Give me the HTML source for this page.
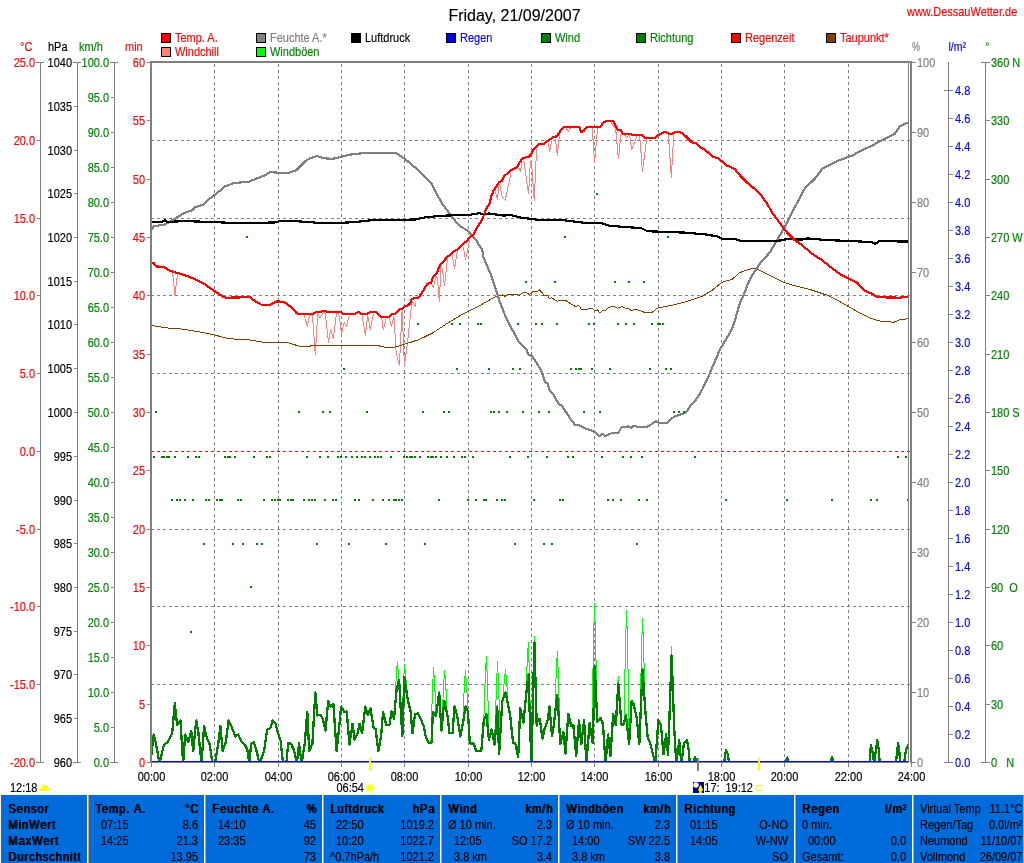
<!DOCTYPE html>
<html><head><meta charset="utf-8"><title>Friday, 21/09/2007</title>
<style>
html,body{margin:0;padding:0;background:#fff;}
body{width:1024px;height:863px;position:relative;overflow:hidden;font-family:"Liberation Sans",Arial,sans-serif;font-size:11px;}
svg{position:absolute;left:0;top:0;}
svg text{font-family:"Liberation Sans",Arial,sans-serif;white-space:pre;stroke:currentColor;stroke-width:0.15px;paint-order:stroke;}
#tbl{position:absolute;left:0;top:795px;width:1024px;height:68px;background:#006CDC;}
#tt{position:absolute;left:0;top:794px;width:1024px;height:1px;background:#FFF6E0;}
#tw{position:absolute;left:0;top:0;width:1024px;height:863px;}
#tw span{position:absolute;white-space:pre;line-height:16px;height:16px;color:#000;-webkit-text-stroke:0.15px #000;transform-origin:0 11.8px;transform:scaleY(1.125);}
#tw span.b{letter-spacing:1px;text-shadow:1px 0 0 #000;}
#tw i{position:absolute;top:795px;width:1px;height:68px;background:#FFF2D6;}
#tw i.d{background:#D4A640;}
</style></head><body>
<svg width="1024" height="863" viewBox="0 0 1024 863">
<rect x="0" y="0" width="1024" height="863" fill="#FFFFFF"/>
<g shape-rendering="crispEdges">
<line x1="214.5" y1="64" x2="214.5" y2="762" stroke="#808080" stroke-width="1" stroke-dasharray="3 3"/>
<line x1="278.5" y1="64" x2="278.5" y2="762" stroke="#808080" stroke-width="1" stroke-dasharray="3 3"/>
<line x1="341.5" y1="64" x2="341.5" y2="762" stroke="#808080" stroke-width="1" stroke-dasharray="3 3"/>
<line x1="404.5" y1="64" x2="404.5" y2="762" stroke="#808080" stroke-width="1" stroke-dasharray="3 3"/>
<line x1="468.5" y1="64" x2="468.5" y2="762" stroke="#808080" stroke-width="1" stroke-dasharray="3 3"/>
<line x1="531.5" y1="64" x2="531.5" y2="762" stroke="#808080" stroke-width="1" stroke-dasharray="3 3"/>
<line x1="594.5" y1="64" x2="594.5" y2="762" stroke="#808080" stroke-width="1" stroke-dasharray="3 3"/>
<line x1="658.5" y1="64" x2="658.5" y2="762" stroke="#808080" stroke-width="1" stroke-dasharray="3 3"/>
<line x1="721.5" y1="64" x2="721.5" y2="762" stroke="#808080" stroke-width="1" stroke-dasharray="3 3"/>
<line x1="784.5" y1="64" x2="784.5" y2="762" stroke="#808080" stroke-width="1" stroke-dasharray="3 3"/>
<line x1="848.5" y1="64" x2="848.5" y2="762" stroke="#808080" stroke-width="1" stroke-dasharray="3 3"/>
<line x1="152" y1="140.5" x2="910" y2="140.5" stroke="#808080" stroke-width="1" stroke-dasharray="3 3" stroke-dashoffset="1"/>
<line x1="152" y1="218.5" x2="910" y2="218.5" stroke="#808080" stroke-width="1" stroke-dasharray="3 3" stroke-dashoffset="1"/>
<line x1="152" y1="295.5" x2="910" y2="295.5" stroke="#808080" stroke-width="1" stroke-dasharray="3 3" stroke-dashoffset="1"/>
<line x1="152" y1="373.5" x2="910" y2="373.5" stroke="#808080" stroke-width="1" stroke-dasharray="3 3" stroke-dashoffset="1"/>
<line x1="152" y1="451.5" x2="910" y2="451.5" stroke="#FF0000" stroke-width="1" stroke-dasharray="3 3" stroke-dashoffset="1"/>
<line x1="152" y1="529.5" x2="910" y2="529.5" stroke="#808080" stroke-width="1" stroke-dasharray="3 3" stroke-dashoffset="1"/>
<line x1="152" y1="606.5" x2="910" y2="606.5" stroke="#808080" stroke-width="1" stroke-dasharray="3 3" stroke-dashoffset="1"/>
<line x1="152" y1="684.5" x2="910" y2="684.5" stroke="#808080" stroke-width="1" stroke-dasharray="3 3" stroke-dashoffset="1"/>
</g>
<g shape-rendering="crispEdges">
<polyline points="394.7,710.5 396.1,679.0 397.3,662.0 398.5,673.1 399.9,693.8" fill="none" stroke="#00FF00" stroke-width="1" stroke-linejoin="round" />
<polyline points="401.9,729.4 403.3,687.2 404.5,664.5 405.7,675.2 407.1,695.2" fill="none" stroke="#00FF00" stroke-width="1" stroke-linejoin="round" />
<polyline points="430.9,742.3 432.3,694.0 433.5,668.0 434.7,684.5 436.1,715.1" fill="none" stroke="#00FF00" stroke-width="1" stroke-linejoin="round" />
<polyline points="442.0,724.0 443.4,688.9 444.6,670.0 445.8,685.2 447.2,713.5" fill="none" stroke="#00FF00" stroke-width="1" stroke-linejoin="round" />
<polyline points="462.8,723.2 464.2,688.6 465.4,670.0 466.6,685.0 468.0,712.7" fill="none" stroke="#00FF00" stroke-width="1" stroke-linejoin="round" />
<polyline points="483.8,720.4 485.2,678.5 486.4,656.0 487.6,685.0 489.0,738.8" fill="none" stroke="#00FF00" stroke-width="1" stroke-linejoin="round" />
<polyline points="494.9,740.8 496.3,689.6 497.5,662.0 498.7,688.4 500.1,737.5" fill="none" stroke="#00FF00" stroke-width="1" stroke-linejoin="round" />
<polyline points="502.9,698.7 504.3,680.1 505.5,670.0 506.7,682.1 508.1,704.6" fill="none" stroke="#00FF00" stroke-width="1" stroke-linejoin="round" />
<polyline points="525.8,697.9 527.2,661.6 528.4,642.0 529.6,679.7 531.0,749.8" fill="none" stroke="#00FF00" stroke-width="1" stroke-linejoin="round" />
<polyline points="531.8,744.1 533.2,673.8 534.4,636.0 535.6,666.7 537.0,723.7" fill="none" stroke="#00FF00" stroke-width="1" stroke-linejoin="round" />
<polyline points="554.8,715.8 556.2,673.7 557.4,651.0 558.6,681.6 560.0,738.5" fill="none" stroke="#00FF00" stroke-width="1" stroke-linejoin="round" />
<polyline points="591.9,737.2 593.3,650.6 594.5,604.0 595.7,643.7 597.1,717.5" fill="none" stroke="#00FF00" stroke-width="1" stroke-linejoin="round" />
<polyline points="615.7,724.2 617.1,692.9 618.3,676.0 619.5,690.1 620.9,716.4" fill="none" stroke="#00FF00" stroke-width="1" stroke-linejoin="round" />
<polyline points="624.0,722.0 625.4,649.2 626.6,610.0 627.8,656.3 629.2,742.4" fill="none" stroke="#00FF00" stroke-width="1" stroke-linejoin="round" />
<polyline points="639.9,730.2 641.3,657.9 642.5,619.0 643.7,650.1 645.1,707.7" fill="none" stroke="#00FF00" stroke-width="1" stroke-linejoin="round" />
<polyline points="668.9,730.7 670.3,676.3 671.5,647.0 672.7,674.0 674.1,724.1" fill="none" stroke="#00FF00" stroke-width="1" stroke-linejoin="round" />
</g>
<g shape-rendering="crispEdges">
<clipPath id="wc"><rect x="152" y="60" width="758" height="701"/></clipPath>
<polyline points="151.2,756.2 153.7,734.5 155.7,742.2 159.5,763.5 163.9,744.7 167.8,742.2 172.2,733.2 174.8,703.3 177.1,725.0 180.5,720.5 183.1,763.5 185.2,734.5 188.2,742.2 191.3,731.3 193.2,751.1 196.2,720.5 198.3,732.0 201.5,763.5 204.1,726.2 206.6,737.1 209.8,744.7 212.4,763.5 214.9,763.5 218.1,744.7 220.4,726.2 222.6,751.1 225.8,742.2 228.6,720.5 232.1,728.1 235.3,736.4 238.2,734.5 241.7,742.2 244.9,744.7 247.4,749.8 249.3,763.5 251.2,743.4 253.8,742.2 256.3,749.8 259.5,763.5 264.0,751.1 267.2,729.4 270.4,728.1 272.6,720.5 275.4,723.0 278.0,733.2 280.6,740.9 283.1,763.5 286.3,763.5 288.2,743.4 290.8,743.4 293.9,749.8 296.9,763.5 299.0,743.4 301.6,763.5 304.8,743.4 307.3,711.6 309.2,751.1 312.4,743.4 315.3,692.5 317.5,715.4 320.7,714.8 323.2,720.5 325.4,730.7 328.3,700.8 330.3,706.5 333.4,703.9 336.6,751.1 339.2,726.9 341.1,706.5 344.3,712.2 346.8,711.6 349.4,744.7 352.6,723.7 354.5,739.6 357.7,733.2 359.6,723.7 362.1,733.2 365.3,706.5 367.9,715.4 370.4,708.4 373.6,728.1 375.5,728.8 378.4,751.1 381.2,734.5 383.1,711.6 386.3,725.0 389.5,725.0 391.4,711.6 394.0,719.2 396.5,689.9 399.1,679.7 402.3,736.4 404.4,677.2 407.4,697.6 408.0,700.8 410.6,711.6 412.5,733.2 415.0,714.1 418.2,713.5 423.9,726.2 425.8,737.1 428.4,742.8 431.6,742.8 432.9,711.6 436.0,716.0 439.2,692.5 441.4,730.7 444.3,700.8 447.5,715.4 449.4,733.2 452.6,733.2 454.5,706.5 457.1,715.4 460.3,736.4 463.4,720.5 465.4,706.5 467.9,711.6 469.8,743.4 473.6,743.4 476.2,751.1 481.3,751.1 483.8,720.5 486.4,714.1 488.9,739.6 491.5,729.4 494.7,744.7 497.2,706.5 499.1,754.3 502.3,700.8 505.5,692.5 510.0,714.1 513.1,742.8 515.1,742.8 518.2,756.8 520.2,708.4 523.4,722.4 525.9,697.6 528.4,674.6 531.4,763.5 534.4,642.5 536.7,725.6 538.0,719.2 539.9,719.2 542.5,739.0 544.4,729.4 547.6,720.5 549.5,706.5 552.0,735.8 553.9,724.3 557.1,695.0 558.4,711.6 560.3,744.1 563.5,732.0 565.4,753.6 568.3,714.1 571.1,725.6 573.4,725.6 576.2,756.2 579.0,720.5 581.3,744.1 584.1,720.5 586.4,763.5 589.6,723.0 592.8,743.4 594.7,665.7 597.3,721.8 600.5,718.0 603.0,724.3 605.5,763.5 608.1,734.5 610.4,756.2 613.2,714.1 615.8,725.0 618.3,683.5 621.5,724.3 623.4,725.0 625.9,714.8 629.1,744.1 631.7,700.8 633.6,703.9 636.8,718.0 639.3,744.1 642.5,669.5 645.1,707.8 647.6,737.1 650.2,743.4 655.3,763.5 658.4,719.9 661.0,725.6 663.5,754.3 666.1,734.5 668.0,754.9 668.0,754.3 669.3,721.8 671.6,655.5 674.4,732.0 676.3,763.5 679.2,740.3 681.4,763.5 683.9,743.4 687.1,740.3 689.0,752.4 689.7,763.5 692.9,763.5 695.0,757.5 697.3,763.5 724.1,763.5 726.0,749.8 727.9,754.9 729.2,763.5 785.3,763.5 787.2,757.5 789.1,763.5 829.5,763.5 832.1,757.5 834.0,763.5 869.7,763.5 870.9,744.7 872.8,753.6 874.1,763.5 877.3,740.3 879.2,752.4 879.5,763.5 895.8,763.5 898.1,743.4 899.6,753.6 899.9,763.5 904.1,763.5 906.0,749.8 908.5,744.7" fill="none" stroke="#008000" stroke-width="2.3" stroke-linejoin="round" clip-path="url(#wc)"/>
<rect x="152" y="761" width="757" height="1" fill="#0000FF" />
<polyline points="172.5,272.2 175.0,294.7 177.5,273.9" fill="none" stroke="#FF8080" stroke-width="1" stroke-linejoin="round" />
<polyline points="304.2,314.9 307.4,326.6 309.5,315.5 312.4,314.9 315.3,354.8 317.7,313.8 320.0,317.9 323.5,312.0 325.3,313.8 328.5,342.5 330.6,329.6 333.3,338.4 336.4,313.8 338.8,313.2 341.5,333.7 344.1,322.5 346.4,326.6 349.3,315.5" fill="none" stroke="#FF8080" stroke-width="1" stroke-linejoin="round" />
<polyline points="362.2,315.5 365.4,335.4 367.7,315.5 370.4,329.6 373.4,313.8" fill="none" stroke="#FF8080" stroke-width="1" stroke-linejoin="round" />
<polyline points="381.6,317.3 383.3,329.6 386.2,317.9 389.2,317.3 391.5,326.6 393.9,316.1 396.2,352.4 399.4,365.3 402.1,310.2 404.4,365.3 407.3,344.2 412.0,300.9 415.5,306.1 416.0,302.0" fill="none" stroke="#FF8080" stroke-width="1" stroke-linejoin="round" />
<polyline points="431.6,283.9 433.4,287.4 436.3,276.2 437.5,278.6 439.3,302.0 441.0,266.9 442.2,268.1 444.5,285.6 447.5,258.7" fill="none" stroke="#FF8080" stroke-width="1" stroke-linejoin="round" />
<polyline points="452.1,254.0 454.5,268.6 457.4,251.1" fill="none" stroke="#FF8080" stroke-width="1" stroke-linejoin="round" />
<polyline points="463.3,246.9 465.4,259.9 467.4,251.6 469.7,238.8" fill="none" stroke="#FF8080" stroke-width="1" stroke-linejoin="round" />
<polyline points="495.2,190.9 497.5,199.7 498.7,186.2 499.9,184.5 502.2,197.4 505.2,200.3 511.0,173.4" fill="none" stroke="#FF8080" stroke-width="1" stroke-linejoin="round" />
<polyline points="518.6,167.5 520.4,171.6 522.1,162.8 523.9,161.6 528.6,193.9 530.4,161.6 531.5,161.6 534.2,200.9 536.6,148.8" fill="none" stroke="#FF8080" stroke-width="1" stroke-linejoin="round" />
<polyline points="547.9,142.9 549.7,151.7 551.5,141.1" fill="none" stroke="#FF8080" stroke-width="1" stroke-linejoin="round" />
<polyline points="555.5,138.8 557.3,155.8 559.6,133.5" fill="none" stroke="#FF8080" stroke-width="1" stroke-linejoin="round" />
<polyline points="565.9,127.8 568.2,131.4 570.5,127.8" fill="none" stroke="#FF8080" stroke-width="1" stroke-linejoin="round" />
<polyline points="592.2,127.3 594.6,163.0 597.5,127.8" fill="none" stroke="#FF8080" stroke-width="1" stroke-linejoin="round" />
<polyline points="611.0,122.0 614.5,127.3 615.7,129.0 618.4,158.9 620.9,134.3" fill="none" stroke="#FF8080" stroke-width="1" stroke-linejoin="round" />
<polyline points="624.5,134.9 626.8,137.8 629.1,134.9 629.7,135.5 631.7,149.5 636.8,136.1" fill="none" stroke="#FF8080" stroke-width="1" stroke-linejoin="round" />
<polyline points="639.7,135.5 642.4,171.8 646.7,139.0" fill="none" stroke="#FF8080" stroke-width="1" stroke-linejoin="round" />
<polyline points="668.4,134.3 671.3,177.7 673.7,134.3" fill="none" stroke="#FF8080" stroke-width="1" stroke-linejoin="round" />
<polyline points="151.3,325.5 167.5,328.0 180.0,328.8 200.1,332.0 215.1,335.1 228.8,338.8 247.6,339.6 265.1,342.6 287.6,342.6 301.4,346.8 315.2,345.6 340.2,345.8 365.2,345.6 377.7,345.6 389.0,348.1 396.0,346.8 406.0,343.8 419.8,339.3 433.5,332.5 448.6,322.5 461.1,315.0 478.6,306.3 496.1,296.3 500.0,295.4 502.5,295.0 505.0,296.3 507.5,294.4 516.3,294.4 518.8,295.4 522.5,293.1 525.7,292.5 529.4,294.4 532.5,291.9 537.5,291.3 539.4,290.0 542.5,293.1 544.4,296.0 547.6,295.7 549.4,298.5 551.9,297.8 555.1,300.0 557.6,301.3 560.1,300.3 565.7,300.3 570.1,303.5 575.1,306.3 578.9,305.7 581.4,309.4 587.6,309.4 589.5,308.2 592.6,308.6 595.1,310.7 597.6,309.8 600.1,313.2 602.6,310.1 605.8,310.3 608.9,307.3 613.3,306.1 617.6,308.2 622.0,306.6 625.2,308.2 628.0,308.4 631.2,310.5 636.2,309.3 646.2,313.0 652.0,312.5 657.0,308.2 672.0,305.2 684.5,302.2 702.0,296.4 712.1,290.2 722.1,282.2 732.1,279.4 739.6,272.7 752.1,268.2 759.6,270.2 772.1,276.4 784.6,282.7 797.1,286.4 809.7,289.4 827.2,295.2 837.2,300.2 849.7,307.2 859.7,313.0 869.7,318.0 879.7,321.0 887.2,321.3 893.5,322.5 899.8,319.5 908.0,318.8" fill="none" stroke="#804000" stroke-width="1" stroke-linejoin="round" />
<polyline points="151.3,230.1 153.8,226.4 165.0,224.4 172.5,220.1 185.1,212.6 192.6,210.1 195.1,207.1 203.8,204.6 207.6,200.1 215.1,194.6 225.1,186.3 233.8,183.1 248.9,181.6 257.6,178.1 265.1,175.1 270.1,172.1 280.1,172.8 288.9,172.6 296.4,170.1 305.2,161.3 310.2,158.1 317.2,156.1 323.9,158.3 332.7,158.8 340.2,157.1 352.7,154.1 365.2,153.1 396.0,153.1 404.8,158.8 412.3,165.1 421.0,172.6 431.0,182.6 436.0,192.6 442.3,203.8 449.8,213.9 458.6,225.1 468.6,231.4 476.1,240.1 482.3,250.2 483.6,257.7 491.1,275.2 496.1,290.2 498.6,297.7 498.6,298.8 504.9,315.0 511.1,327.5 518.6,341.3 526.1,348.8 528.6,354.6 532.4,356.3 541.1,370.1 544.9,382.1 547.4,383.1 549.9,390.6 553.7,395.1 558.7,403.9 562.4,406.4 571.2,420.1 574.9,424.6 579.9,425.6 586.2,428.9 593.7,431.4 600.0,436.4 602.5,433.9 605.0,436.4 611.2,433.4 618.7,432.6 621.2,427.6 628.7,426.4 631.2,428.1 633.7,425.9 640.0,427.1 647.5,426.6 652.0,423.9 655.8,420.9 658.3,422.6 666.3,423.4 669.5,420.1 674.5,416.4 685.8,412.6 692.0,403.9 695.8,400.1 702.0,390.1 709.6,373.8 719.6,350.1 727.1,337.6 732.1,328.8 735.8,317.5 739.6,303.8 745.8,290.0 747.1,285.2 752.1,275.2 759.6,263.9 769.6,252.7 777.1,240.1 787.1,222.6 794.6,207.6 804.6,188.8 814.7,178.8 822.2,168.8 827.2,166.3 839.7,160.1 852.2,155.6 859.7,151.3 872.2,145.6 882.2,140.0 894.7,133.8 899.8,126.3 908.0,122.5" fill="none" stroke="#808080" stroke-width="2.2" stroke-linejoin="round" />
<polyline points="151.3,222.1 162.5,221.6 165.0,220.1 167.5,221.9 185.1,221.1 215.1,222.1 240.1,223.4 275.1,222.4 280.1,221.1 295.2,221.1 315.2,222.6 335.2,223.1 355.2,222.1 370.2,220.4 396.0,220.1 416.0,219.4 426.0,217.1 446.1,215.6 471.1,214.6 479.8,213.1 483.6,214.6 488.6,213.4 503.6,215.6 511.1,215.1 521.1,217.6 536.1,219.6 558.7,219.6 571.2,221.1 588.7,223.4 601.2,223.1 608.7,225.6 626.2,227.1 641.2,228.1 646.2,230.6 652.0,231.4 684.5,232.6 707.1,234.6 717.1,236.4 723.3,239.4 734.6,238.6 739.6,240.6 777.1,241.1 787.1,239.1 802.1,239.6 807.2,238.4 827.2,240.1 852.2,241.1 872.2,242.1 874.7,243.9 879.7,241.1 908.0,241.6" fill="none" stroke="#000000" stroke-width="2.2" stroke-linejoin="round" />
<polyline points="151.3,263.2 153.8,263.2 156.3,266.4 163.8,266.9 170.0,270.9 176.3,272.7 185.1,275.2 192.6,278.2 203.8,283.4 207.6,286.4 215.1,291.4 222.6,296.4 226.3,297.7 250.1,297.2 255.1,301.4 261.4,304.7 270.1,304.7 276.4,301.4 283.9,301.9 290.1,306.5 295.2,311.5 296.0,312.6 297.8,314.0 312.4,314.0 314.8,312.6 317.1,311.8 320.6,311.8 322.4,310.6 324.7,310.6 326.5,311.8 341.1,311.8 342.9,313.8 355.2,313.8 356.9,312.6 358.7,311.8 360.5,313.8 367.5,313.8 369.2,312.6 372.2,311.8 375.1,311.8 378.0,313.8 381.0,316.7 389.8,316.7 391.5,314.3 395.0,313.8 399.1,309.6 402.1,308.5 405.0,306.1 407.9,305.6 410.3,303.2 411.7,298.8 418.8,297.4 427.5,283.9 431.1,282.7 432.8,277.4 436.9,272.7 440.4,264.5 446.9,257.5 453.9,251.1 457.4,249.9 463.3,243.4 466.8,241.1 470.3,236.4 473.2,235.2 477.9,225.9 482.0,220.0 485.8,210.0 489.9,202.7 491.1,196.8 493.4,190.9 498.7,182.7 502.2,180.4 504.6,175.1 507.5,173.9 511.6,169.8 516.9,167.5 521.6,159.3 523.9,157.9 528.6,156.9 530.9,154.6 533.9,148.8 538.6,144.1 543.8,144.1 547.4,141.1 553.2,137.0 556.7,136.4 559.6,132.3 562.3,128.4 564.7,126.7 579.3,126.7 581.1,131.9 583.4,131.4 585.8,127.8 588.1,126.7 600.4,126.7 603.4,122.6 606.3,120.8 613.3,120.8 615.7,126.1 617.4,129.8 620.9,129.8 622.7,133.7 630.9,133.7 632.1,134.9 642.0,134.9 645.0,137.8 654.9,137.8 657.3,135.7 662.0,133.1 665.5,131.9 668.4,133.7 672.5,133.7 674.9,131.9 680.0,131.9 685.8,136.3 692.0,142.5 695.8,143.0 700.8,148.1 704.5,149.3 712.1,156.3 718.3,158.3 727.1,165.6 734.6,168.8 739.6,175.1 747.1,182.6 754.6,188.8 760.9,195.1 767.1,203.8 772.1,212.6 779.6,222.6 787.1,232.6 794.6,240.1 802.1,245.2 812.2,253.9 822.2,260.2 829.7,266.4 839.7,273.9 849.7,278.9 857.2,282.7 864.7,290.7 872.2,293.9 877.2,297.2 899.8,297.7 908.0,296.7" fill="none" stroke="#FF0000" stroke-width="2.2" stroke-linejoin="round" />
<rect x="153" y="456" width="2" height="2" fill="#008000" />
<rect x="161" y="456" width="2" height="2" fill="#008000" />
<rect x="163" y="456" width="2" height="2" fill="#008000" />
<rect x="166" y="456" width="2" height="2" fill="#008000" />
<rect x="168" y="456" width="2" height="2" fill="#008000" />
<rect x="174" y="456" width="2" height="2" fill="#008000" />
<rect x="187" y="456" width="2" height="2" fill="#008000" />
<rect x="195" y="456" width="2" height="2" fill="#008000" />
<rect x="198" y="456" width="2" height="2" fill="#008000" />
<rect x="224" y="456" width="2" height="2" fill="#008000" />
<rect x="227" y="456" width="2" height="2" fill="#008000" />
<rect x="229" y="456" width="2" height="2" fill="#008000" />
<rect x="234" y="456" width="2" height="2" fill="#008000" />
<rect x="253" y="456" width="2" height="2" fill="#008000" />
<rect x="266" y="456" width="2" height="2" fill="#008000" />
<rect x="269" y="456" width="2" height="2" fill="#008000" />
<rect x="306" y="456" width="2" height="2" fill="#008000" />
<rect x="319" y="456" width="2" height="2" fill="#008000" />
<rect x="327" y="456" width="2" height="2" fill="#008000" />
<rect x="337" y="456" width="2" height="2" fill="#008000" />
<rect x="340" y="456" width="2" height="2" fill="#008000" />
<rect x="345" y="456" width="2" height="2" fill="#008000" />
<rect x="351" y="456" width="2" height="2" fill="#008000" />
<rect x="356" y="456" width="2" height="2" fill="#008000" />
<rect x="361" y="456" width="2" height="2" fill="#008000" />
<rect x="364" y="456" width="2" height="2" fill="#008000" />
<rect x="369" y="456" width="2" height="2" fill="#008000" />
<rect x="374" y="456" width="2" height="2" fill="#008000" />
<rect x="377" y="456" width="2" height="2" fill="#008000" />
<rect x="380" y="456" width="2" height="2" fill="#008000" />
<rect x="390" y="456" width="2" height="2" fill="#008000" />
<rect x="403" y="456" width="2" height="2" fill="#008000" />
<rect x="406" y="456" width="2" height="2" fill="#008000" />
<rect x="409" y="456" width="2" height="2" fill="#008000" />
<rect x="411" y="456" width="2" height="2" fill="#008000" />
<rect x="414" y="456" width="2" height="2" fill="#008000" />
<rect x="419" y="456" width="2" height="2" fill="#008000" />
<rect x="427" y="456" width="2" height="2" fill="#008000" />
<rect x="430" y="456" width="2" height="2" fill="#008000" />
<rect x="432" y="456" width="2" height="2" fill="#008000" />
<rect x="435" y="456" width="2" height="2" fill="#008000" />
<rect x="440" y="456" width="2" height="2" fill="#008000" />
<rect x="446" y="456" width="2" height="2" fill="#008000" />
<rect x="453" y="456" width="2" height="2" fill="#008000" />
<rect x="461" y="456" width="2" height="2" fill="#008000" />
<rect x="464" y="456" width="2" height="2" fill="#008000" />
<rect x="472" y="456" width="2" height="2" fill="#008000" />
<rect x="509" y="456" width="2" height="2" fill="#008000" />
<rect x="527" y="456" width="2" height="2" fill="#008000" />
<rect x="546" y="456" width="2" height="2" fill="#008000" />
<rect x="567" y="456" width="2" height="2" fill="#008000" />
<rect x="572" y="456" width="2" height="2" fill="#008000" />
<rect x="601" y="456" width="2" height="2" fill="#008000" />
<rect x="622" y="456" width="2" height="2" fill="#008000" />
<rect x="630" y="456" width="2" height="2" fill="#008000" />
<rect x="641" y="456" width="2" height="2" fill="#008000" />
<rect x="694" y="456" width="2" height="2" fill="#008000" />
<rect x="897" y="456" width="2" height="2" fill="#008000" />
<rect x="905" y="456" width="2" height="2" fill="#008000" />
<rect x="171" y="499" width="2" height="2" fill="#008000" />
<rect x="176" y="499" width="2" height="2" fill="#008000" />
<rect x="179" y="499" width="2" height="2" fill="#008000" />
<rect x="184" y="499" width="2" height="2" fill="#008000" />
<rect x="192" y="499" width="2" height="2" fill="#008000" />
<rect x="205" y="499" width="2" height="2" fill="#008000" />
<rect x="208" y="499" width="2" height="2" fill="#008000" />
<rect x="216" y="499" width="2" height="2" fill="#008000" />
<rect x="219" y="499" width="2" height="2" fill="#008000" />
<rect x="221" y="499" width="2" height="2" fill="#008000" />
<rect x="237" y="499" width="2" height="2" fill="#008000" />
<rect x="240" y="499" width="2" height="2" fill="#008000" />
<rect x="263" y="499" width="2" height="2" fill="#008000" />
<rect x="271" y="499" width="2" height="2" fill="#008000" />
<rect x="274" y="499" width="2" height="2" fill="#008000" />
<rect x="277" y="499" width="2" height="2" fill="#008000" />
<rect x="279" y="499" width="2" height="2" fill="#008000" />
<rect x="287" y="499" width="2" height="2" fill="#008000" />
<rect x="290" y="499" width="2" height="2" fill="#008000" />
<rect x="292" y="499" width="2" height="2" fill="#008000" />
<rect x="303" y="499" width="2" height="2" fill="#008000" />
<rect x="308" y="499" width="2" height="2" fill="#008000" />
<rect x="311" y="499" width="2" height="2" fill="#008000" />
<rect x="314" y="499" width="2" height="2" fill="#008000" />
<rect x="324" y="499" width="2" height="2" fill="#008000" />
<rect x="332" y="499" width="2" height="2" fill="#008000" />
<rect x="335" y="499" width="2" height="2" fill="#008000" />
<rect x="354" y="499" width="2" height="2" fill="#008000" />
<rect x="358" y="499" width="2" height="2" fill="#008000" />
<rect x="372" y="499" width="2" height="2" fill="#008000" />
<rect x="382" y="499" width="2" height="2" fill="#008000" />
<rect x="388" y="499" width="2" height="2" fill="#008000" />
<rect x="393" y="499" width="2" height="2" fill="#008000" />
<rect x="395" y="499" width="2" height="2" fill="#008000" />
<rect x="398" y="499" width="2" height="2" fill="#008000" />
<rect x="401" y="499" width="2" height="2" fill="#008000" />
<rect x="438" y="499" width="2" height="2" fill="#008000" />
<rect x="467" y="499" width="2" height="2" fill="#008000" />
<rect x="475" y="499" width="2" height="2" fill="#008000" />
<rect x="483" y="499" width="2" height="2" fill="#008000" />
<rect x="485" y="499" width="2" height="2" fill="#008000" />
<rect x="496" y="499" width="2" height="2" fill="#008000" />
<rect x="501" y="499" width="2" height="2" fill="#008000" />
<rect x="504" y="499" width="2" height="2" fill="#008000" />
<rect x="533" y="499" width="2" height="2" fill="#008000" />
<rect x="559" y="499" width="2" height="2" fill="#008000" />
<rect x="562" y="499" width="2" height="2" fill="#008000" />
<rect x="607" y="499" width="2" height="2" fill="#008000" />
<rect x="612" y="499" width="2" height="2" fill="#008000" />
<rect x="620" y="499" width="2" height="2" fill="#008000" />
<rect x="638" y="499" width="2" height="2" fill="#008000" />
<rect x="646" y="499" width="2" height="2" fill="#008000" />
<rect x="725" y="499" width="2" height="2" fill="#008000" />
<rect x="786" y="499" width="2" height="2" fill="#008000" />
<rect x="831" y="499" width="2" height="2" fill="#008000" />
<rect x="870" y="499" width="2" height="2" fill="#008000" />
<rect x="876" y="499" width="2" height="2" fill="#008000" />
<rect x="907" y="499" width="2" height="2" fill="#008000" />
<rect x="155" y="411" width="2" height="2" fill="#008000" />
<rect x="298" y="411" width="2" height="2" fill="#008000" />
<rect x="322" y="411" width="2" height="2" fill="#008000" />
<rect x="329" y="411" width="2" height="2" fill="#008000" />
<rect x="366" y="411" width="2" height="2" fill="#008000" />
<rect x="422" y="411" width="2" height="2" fill="#008000" />
<rect x="443" y="411" width="2" height="2" fill="#008000" />
<rect x="448" y="411" width="2" height="2" fill="#008000" />
<rect x="490" y="411" width="2" height="2" fill="#008000" />
<rect x="493" y="411" width="2" height="2" fill="#008000" />
<rect x="498" y="411" width="2" height="2" fill="#008000" />
<rect x="506" y="411" width="2" height="2" fill="#008000" />
<rect x="522" y="411" width="2" height="2" fill="#008000" />
<rect x="538" y="411" width="2" height="2" fill="#008000" />
<rect x="548" y="411" width="2" height="2" fill="#008000" />
<rect x="583" y="411" width="2" height="2" fill="#008000" />
<rect x="599" y="411" width="2" height="2" fill="#008000" />
<rect x="673" y="411" width="2" height="2" fill="#008000" />
<rect x="678" y="411" width="2" height="2" fill="#008000" />
<rect x="683" y="411" width="2" height="2" fill="#008000" />
<rect x="343" y="368" width="2" height="2" fill="#008000" />
<rect x="456" y="368" width="2" height="2" fill="#008000" />
<rect x="488" y="368" width="2" height="2" fill="#008000" />
<rect x="512" y="368" width="2" height="2" fill="#008000" />
<rect x="519" y="368" width="2" height="2" fill="#008000" />
<rect x="570" y="368" width="2" height="2" fill="#008000" />
<rect x="575" y="368" width="2" height="2" fill="#008000" />
<rect x="578" y="368" width="2" height="2" fill="#008000" />
<rect x="580" y="368" width="2" height="2" fill="#008000" />
<rect x="591" y="368" width="2" height="2" fill="#008000" />
<rect x="609" y="368" width="2" height="2" fill="#008000" />
<rect x="649" y="368" width="2" height="2" fill="#008000" />
<rect x="665" y="368" width="2" height="2" fill="#008000" />
<rect x="670" y="368" width="2" height="2" fill="#008000" />
<rect x="417" y="323" width="2" height="2" fill="#008000" />
<rect x="451" y="323" width="2" height="2" fill="#008000" />
<rect x="459" y="323" width="2" height="2" fill="#008000" />
<rect x="477" y="323" width="2" height="2" fill="#008000" />
<rect x="480" y="323" width="2" height="2" fill="#008000" />
<rect x="517" y="323" width="2" height="2" fill="#008000" />
<rect x="535" y="323" width="2" height="2" fill="#008000" />
<rect x="541" y="323" width="2" height="2" fill="#008000" />
<rect x="556" y="323" width="2" height="2" fill="#008000" />
<rect x="588" y="323" width="2" height="2" fill="#008000" />
<rect x="593" y="323" width="2" height="2" fill="#008000" />
<rect x="617" y="323" width="2" height="2" fill="#008000" />
<rect x="625" y="323" width="2" height="2" fill="#008000" />
<rect x="633" y="323" width="2" height="2" fill="#008000" />
<rect x="651" y="323" width="2" height="2" fill="#008000" />
<rect x="657" y="323" width="2" height="2" fill="#008000" />
<rect x="659" y="323" width="2" height="2" fill="#008000" />
<rect x="662" y="323" width="2" height="2" fill="#008000" />
<rect x="525" y="281" width="2" height="2" fill="#008000" />
<rect x="554" y="281" width="2" height="2" fill="#008000" />
<rect x="614" y="281" width="2" height="2" fill="#008000" />
<rect x="628" y="281" width="2" height="2" fill="#008000" />
<rect x="643" y="281" width="2" height="2" fill="#008000" />
<rect x="246" y="236" width="2" height="2" fill="#008000" />
<rect x="564" y="236" width="2" height="2" fill="#008000" />
<rect x="667" y="236" width="2" height="2" fill="#008000" />
<rect x="596" y="193" width="2" height="2" fill="#008000" />
<rect x="203" y="543" width="2" height="2" fill="#008000" />
<rect x="232" y="543" width="2" height="2" fill="#008000" />
<rect x="242" y="543" width="2" height="2" fill="#008000" />
<rect x="256" y="543" width="2" height="2" fill="#008000" />
<rect x="261" y="543" width="2" height="2" fill="#008000" />
<rect x="316" y="543" width="2" height="2" fill="#008000" />
<rect x="348" y="543" width="2" height="2" fill="#008000" />
<rect x="385" y="543" width="2" height="2" fill="#008000" />
<rect x="424" y="543" width="2" height="2" fill="#008000" />
<rect x="514" y="543" width="2" height="2" fill="#008000" />
<rect x="543" y="543" width="2" height="2" fill="#008000" />
<rect x="551" y="543" width="2" height="2" fill="#008000" />
<rect x="636" y="543" width="2" height="2" fill="#008000" />
<rect x="250" y="586" width="2" height="2" fill="#008000" />
<rect x="190" y="631" width="2" height="2" fill="#008000" />
</g>
<g shape-rendering="crispEdges">
<rect x="150" y="61" width="2" height="702" fill="#808080" />
<rect x="150" y="762" width="759" height="1" fill="#808080" />
<rect x="150" y="61" width="760" height="2" fill="#808080" />
<rect x="908" y="61" width="1" height="702" fill="#808080" />
<rect x="910" y="61" width="2" height="702" fill="#808080" />
<rect x="40" y="62" width="1" height="700" fill="#808080" />
<rect x="36" y="62" width="8" height="1" fill="#808080" />
<rect x="36" y="762" width="8" height="1" fill="#808080" />
<rect x="77" y="62" width="1" height="700" fill="#808080" />
<rect x="73" y="62" width="8" height="1" fill="#808080" />
<rect x="73" y="762" width="8" height="1" fill="#808080" />
<rect x="114" y="62" width="1" height="700" fill="#808080" />
<rect x="110" y="62" width="8" height="1" fill="#808080" />
<rect x="110" y="762" width="8" height="1" fill="#808080" />
<rect x="948" y="62" width="1" height="700" fill="#808080" />
<rect x="985" y="62" width="1" height="700" fill="#808080" />
<rect x="981" y="62" width="8" height="1" fill="#808080" />
<rect x="981" y="762" width="8" height="1" fill="#808080" />
<rect x="944" y="762" width="8" height="1" fill="#808080" />
<rect x="37" y="762" width="3" height="1" fill="#808080" />
<rect x="37" y="684" width="3" height="1" fill="#808080" />
<rect x="37" y="606" width="3" height="1" fill="#808080" />
<rect x="37" y="529" width="3" height="1" fill="#808080" />
<rect x="37" y="451" width="3" height="1" fill="#808080" />
<rect x="37" y="373" width="3" height="1" fill="#808080" />
<rect x="37" y="295" width="3" height="1" fill="#808080" />
<rect x="37" y="218" width="3" height="1" fill="#808080" />
<rect x="37" y="140" width="3" height="1" fill="#808080" />
<rect x="37" y="62" width="3" height="1" fill="#808080" />
<rect x="74" y="762" width="3" height="1" fill="#808080" />
<rect x="74" y="718" width="3" height="1" fill="#808080" />
<rect x="74" y="674" width="3" height="1" fill="#808080" />
<rect x="74" y="631" width="3" height="1" fill="#808080" />
<rect x="74" y="587" width="3" height="1" fill="#808080" />
<rect x="74" y="543" width="3" height="1" fill="#808080" />
<rect x="74" y="500" width="3" height="1" fill="#808080" />
<rect x="74" y="456" width="3" height="1" fill="#808080" />
<rect x="74" y="412" width="3" height="1" fill="#808080" />
<rect x="74" y="368" width="3" height="1" fill="#808080" />
<rect x="74" y="324" width="3" height="1" fill="#808080" />
<rect x="74" y="281" width="3" height="1" fill="#808080" />
<rect x="74" y="237" width="3" height="1" fill="#808080" />
<rect x="74" y="193" width="3" height="1" fill="#808080" />
<rect x="74" y="150" width="3" height="1" fill="#808080" />
<rect x="74" y="106" width="3" height="1" fill="#808080" />
<rect x="74" y="62" width="3" height="1" fill="#808080" />
<rect x="111" y="762" width="3" height="1" fill="#808080" />
<rect x="111" y="727" width="3" height="1" fill="#808080" />
<rect x="111" y="692" width="3" height="1" fill="#808080" />
<rect x="111" y="657" width="3" height="1" fill="#808080" />
<rect x="111" y="622" width="3" height="1" fill="#808080" />
<rect x="111" y="587" width="3" height="1" fill="#808080" />
<rect x="111" y="552" width="3" height="1" fill="#808080" />
<rect x="111" y="517" width="3" height="1" fill="#808080" />
<rect x="111" y="482" width="3" height="1" fill="#808080" />
<rect x="111" y="447" width="3" height="1" fill="#808080" />
<rect x="111" y="412" width="3" height="1" fill="#808080" />
<rect x="111" y="377" width="3" height="1" fill="#808080" />
<rect x="111" y="342" width="3" height="1" fill="#808080" />
<rect x="111" y="307" width="3" height="1" fill="#808080" />
<rect x="111" y="272" width="3" height="1" fill="#808080" />
<rect x="111" y="237" width="3" height="1" fill="#808080" />
<rect x="111" y="202" width="3" height="1" fill="#808080" />
<rect x="111" y="167" width="3" height="1" fill="#808080" />
<rect x="111" y="132" width="3" height="1" fill="#808080" />
<rect x="111" y="97" width="3" height="1" fill="#808080" />
<rect x="111" y="62" width="3" height="1" fill="#808080" />
<rect x="147" y="762" width="3" height="1" fill="#808080" />
<rect x="147" y="704" width="3" height="1" fill="#808080" />
<rect x="147" y="645" width="3" height="1" fill="#808080" />
<rect x="147" y="587" width="3" height="1" fill="#808080" />
<rect x="147" y="529" width="3" height="1" fill="#808080" />
<rect x="147" y="470" width="3" height="1" fill="#808080" />
<rect x="147" y="412" width="3" height="1" fill="#808080" />
<rect x="147" y="354" width="3" height="1" fill="#808080" />
<rect x="147" y="295" width="3" height="1" fill="#808080" />
<rect x="147" y="237" width="3" height="1" fill="#808080" />
<rect x="147" y="179" width="3" height="1" fill="#808080" />
<rect x="147" y="120" width="3" height="1" fill="#808080" />
<rect x="147" y="62" width="3" height="1" fill="#808080" />
<rect x="912" y="762" width="4" height="1" fill="#808080" />
<rect x="912" y="692" width="4" height="1" fill="#808080" />
<rect x="912" y="622" width="4" height="1" fill="#808080" />
<rect x="912" y="552" width="4" height="1" fill="#808080" />
<rect x="912" y="482" width="4" height="1" fill="#808080" />
<rect x="912" y="412" width="4" height="1" fill="#808080" />
<rect x="912" y="342" width="4" height="1" fill="#808080" />
<rect x="912" y="272" width="4" height="1" fill="#808080" />
<rect x="912" y="202" width="4" height="1" fill="#808080" />
<rect x="912" y="132" width="4" height="1" fill="#808080" />
<rect x="912" y="62" width="4" height="1" fill="#808080" />
<rect x="949" y="762" width="4" height="1" fill="#808080" />
<rect x="949" y="734" width="4" height="1" fill="#808080" />
<rect x="949" y="706" width="4" height="1" fill="#808080" />
<rect x="949" y="678" width="4" height="1" fill="#808080" />
<rect x="949" y="650" width="4" height="1" fill="#808080" />
<rect x="949" y="622" width="4" height="1" fill="#808080" />
<rect x="949" y="594" width="4" height="1" fill="#808080" />
<rect x="949" y="566" width="4" height="1" fill="#808080" />
<rect x="949" y="538" width="4" height="1" fill="#808080" />
<rect x="949" y="510" width="4" height="1" fill="#808080" />
<rect x="949" y="482" width="4" height="1" fill="#808080" />
<rect x="949" y="454" width="4" height="1" fill="#808080" />
<rect x="949" y="426" width="4" height="1" fill="#808080" />
<rect x="949" y="398" width="4" height="1" fill="#808080" />
<rect x="949" y="370" width="4" height="1" fill="#808080" />
<rect x="949" y="342" width="4" height="1" fill="#808080" />
<rect x="949" y="314" width="4" height="1" fill="#808080" />
<rect x="949" y="286" width="4" height="1" fill="#808080" />
<rect x="949" y="258" width="4" height="1" fill="#808080" />
<rect x="949" y="230" width="4" height="1" fill="#808080" />
<rect x="949" y="202" width="4" height="1" fill="#808080" />
<rect x="949" y="174" width="4" height="1" fill="#808080" />
<rect x="949" y="146" width="4" height="1" fill="#808080" />
<rect x="949" y="118" width="4" height="1" fill="#808080" />
<rect x="949" y="90" width="4" height="1" fill="#808080" />
<rect x="986" y="762" width="4" height="1" fill="#808080" />
<rect x="986" y="704" width="4" height="1" fill="#808080" />
<rect x="986" y="645" width="4" height="1" fill="#808080" />
<rect x="986" y="587" width="4" height="1" fill="#808080" />
<rect x="986" y="529" width="4" height="1" fill="#808080" />
<rect x="986" y="470" width="4" height="1" fill="#808080" />
<rect x="986" y="412" width="4" height="1" fill="#808080" />
<rect x="986" y="354" width="4" height="1" fill="#808080" />
<rect x="986" y="295" width="4" height="1" fill="#808080" />
<rect x="986" y="237" width="4" height="1" fill="#808080" />
<rect x="986" y="179" width="4" height="1" fill="#808080" />
<rect x="986" y="120" width="4" height="1" fill="#808080" />
<rect x="986" y="62" width="4" height="1" fill="#808080" />
<rect x="944" y="90" width="4" height="1" fill="#808080" />
<rect x="151" y="763" width="1" height="4" fill="#808080" />
<rect x="214" y="763" width="1" height="4" fill="#808080" />
<rect x="278" y="763" width="1" height="4" fill="#808080" />
<rect x="341" y="763" width="1" height="4" fill="#808080" />
<rect x="404" y="763" width="1" height="4" fill="#808080" />
<rect x="468" y="763" width="1" height="4" fill="#808080" />
<rect x="531" y="763" width="1" height="4" fill="#808080" />
<rect x="594" y="763" width="1" height="4" fill="#808080" />
<rect x="658" y="763" width="1" height="4" fill="#808080" />
<rect x="721" y="763" width="1" height="4" fill="#808080" />
<rect x="784" y="763" width="1" height="4" fill="#808080" />
<rect x="848" y="763" width="1" height="4" fill="#808080" />
<rect x="911" y="763" width="1" height="4" fill="#808080" />
<rect x="369" y="758" width="2" height="13" fill="#FFFF00" />
<rect x="758" y="758" width="2" height="13" fill="#FFFF00" />
<rect x="697" y="758" width="2" height="13" fill="#808080" />
</g>
<text transform="translate(35 767) scale(1 1.125)" fill="#FF0000" color="#FF0000" font-size="11" text-anchor="end" >-20.0</text>
<text transform="translate(35 689) scale(1 1.125)" fill="#FF0000" color="#FF0000" font-size="11" text-anchor="end" >-15.0</text>
<text transform="translate(35 611) scale(1 1.125)" fill="#FF0000" color="#FF0000" font-size="11" text-anchor="end" >-10.0</text>
<text transform="translate(35 534) scale(1 1.125)" fill="#FF0000" color="#FF0000" font-size="11" text-anchor="end" >-5.0</text>
<text transform="translate(35 456) scale(1 1.125)" fill="#FF0000" color="#FF0000" font-size="11" text-anchor="end" >0.0</text>
<text transform="translate(35 378) scale(1 1.125)" fill="#FF0000" color="#FF0000" font-size="11" text-anchor="end" >5.0</text>
<text transform="translate(35 300) scale(1 1.125)" fill="#FF0000" color="#FF0000" font-size="11" text-anchor="end" >10.0</text>
<text transform="translate(35 223) scale(1 1.125)" fill="#FF0000" color="#FF0000" font-size="11" text-anchor="end" >15.0</text>
<text transform="translate(35 145) scale(1 1.125)" fill="#FF0000" color="#FF0000" font-size="11" text-anchor="end" >20.0</text>
<text transform="translate(35 67) scale(1 1.125)" fill="#FF0000" color="#FF0000" font-size="11" text-anchor="end" >25.0</text>
<text transform="translate(72 767) scale(1 1.125)" fill="#000" color="#000" font-size="11" text-anchor="end" >960</text>
<text transform="translate(72 723) scale(1 1.125)" fill="#000" color="#000" font-size="11" text-anchor="end" >965</text>
<text transform="translate(72 679) scale(1 1.125)" fill="#000" color="#000" font-size="11" text-anchor="end" >970</text>
<text transform="translate(72 636) scale(1 1.125)" fill="#000" color="#000" font-size="11" text-anchor="end" >975</text>
<text transform="translate(72 592) scale(1 1.125)" fill="#000" color="#000" font-size="11" text-anchor="end" >980</text>
<text transform="translate(72 548) scale(1 1.125)" fill="#000" color="#000" font-size="11" text-anchor="end" >985</text>
<text transform="translate(72 505) scale(1 1.125)" fill="#000" color="#000" font-size="11" text-anchor="end" >990</text>
<text transform="translate(72 461) scale(1 1.125)" fill="#000" color="#000" font-size="11" text-anchor="end" >995</text>
<text transform="translate(72 417) scale(1 1.125)" fill="#000" color="#000" font-size="11" text-anchor="end" >1000</text>
<text transform="translate(72 373) scale(1 1.125)" fill="#000" color="#000" font-size="11" text-anchor="end" >1005</text>
<text transform="translate(72 329) scale(1 1.125)" fill="#000" color="#000" font-size="11" text-anchor="end" >1010</text>
<text transform="translate(72 286) scale(1 1.125)" fill="#000" color="#000" font-size="11" text-anchor="end" >1015</text>
<text transform="translate(72 242) scale(1 1.125)" fill="#000" color="#000" font-size="11" text-anchor="end" >1020</text>
<text transform="translate(72 198) scale(1 1.125)" fill="#000" color="#000" font-size="11" text-anchor="end" >1025</text>
<text transform="translate(72 155) scale(1 1.125)" fill="#000" color="#000" font-size="11" text-anchor="end" >1030</text>
<text transform="translate(72 111) scale(1 1.125)" fill="#000" color="#000" font-size="11" text-anchor="end" >1035</text>
<text transform="translate(72 67) scale(1 1.125)" fill="#000" color="#000" font-size="11" text-anchor="end" >1040</text>
<text transform="translate(109 767) scale(1 1.125)" fill="#008000" color="#008000" font-size="11" text-anchor="end" >0.0</text>
<text transform="translate(109 732) scale(1 1.125)" fill="#008000" color="#008000" font-size="11" text-anchor="end" >5.0</text>
<text transform="translate(109 697) scale(1 1.125)" fill="#008000" color="#008000" font-size="11" text-anchor="end" >10.0</text>
<text transform="translate(109 662) scale(1 1.125)" fill="#008000" color="#008000" font-size="11" text-anchor="end" >15.0</text>
<text transform="translate(109 627) scale(1 1.125)" fill="#008000" color="#008000" font-size="11" text-anchor="end" >20.0</text>
<text transform="translate(109 592) scale(1 1.125)" fill="#008000" color="#008000" font-size="11" text-anchor="end" >25.0</text>
<text transform="translate(109 557) scale(1 1.125)" fill="#008000" color="#008000" font-size="11" text-anchor="end" >30.0</text>
<text transform="translate(109 522) scale(1 1.125)" fill="#008000" color="#008000" font-size="11" text-anchor="end" >35.0</text>
<text transform="translate(109 487) scale(1 1.125)" fill="#008000" color="#008000" font-size="11" text-anchor="end" >40.0</text>
<text transform="translate(109 452) scale(1 1.125)" fill="#008000" color="#008000" font-size="11" text-anchor="end" >45.0</text>
<text transform="translate(109 417) scale(1 1.125)" fill="#008000" color="#008000" font-size="11" text-anchor="end" >50.0</text>
<text transform="translate(109 382) scale(1 1.125)" fill="#008000" color="#008000" font-size="11" text-anchor="end" >55.0</text>
<text transform="translate(109 347) scale(1 1.125)" fill="#008000" color="#008000" font-size="11" text-anchor="end" >60.0</text>
<text transform="translate(109 312) scale(1 1.125)" fill="#008000" color="#008000" font-size="11" text-anchor="end" >65.0</text>
<text transform="translate(109 277) scale(1 1.125)" fill="#008000" color="#008000" font-size="11" text-anchor="end" >70.0</text>
<text transform="translate(109 242) scale(1 1.125)" fill="#008000" color="#008000" font-size="11" text-anchor="end" >75.0</text>
<text transform="translate(109 207) scale(1 1.125)" fill="#008000" color="#008000" font-size="11" text-anchor="end" >80.0</text>
<text transform="translate(109 172) scale(1 1.125)" fill="#008000" color="#008000" font-size="11" text-anchor="end" >85.0</text>
<text transform="translate(109 137) scale(1 1.125)" fill="#008000" color="#008000" font-size="11" text-anchor="end" >90.0</text>
<text transform="translate(109 102) scale(1 1.125)" fill="#008000" color="#008000" font-size="11" text-anchor="end" >95.0</text>
<text transform="translate(109 67) scale(1 1.125)" fill="#008000" color="#008000" font-size="11" text-anchor="end" >100.0</text>
<text transform="translate(145 767) scale(1 1.125)" fill="#FF0000" color="#FF0000" font-size="11" text-anchor="end" >0</text>
<text transform="translate(145 709) scale(1 1.125)" fill="#FF0000" color="#FF0000" font-size="11" text-anchor="end" >5</text>
<text transform="translate(145 650) scale(1 1.125)" fill="#FF0000" color="#FF0000" font-size="11" text-anchor="end" >10</text>
<text transform="translate(145 592) scale(1 1.125)" fill="#FF0000" color="#FF0000" font-size="11" text-anchor="end" >15</text>
<text transform="translate(145 534) scale(1 1.125)" fill="#FF0000" color="#FF0000" font-size="11" text-anchor="end" >20</text>
<text transform="translate(145 475) scale(1 1.125)" fill="#FF0000" color="#FF0000" font-size="11" text-anchor="end" >25</text>
<text transform="translate(145 417) scale(1 1.125)" fill="#FF0000" color="#FF0000" font-size="11" text-anchor="end" >30</text>
<text transform="translate(145 359) scale(1 1.125)" fill="#FF0000" color="#FF0000" font-size="11" text-anchor="end" >35</text>
<text transform="translate(145 300) scale(1 1.125)" fill="#FF0000" color="#FF0000" font-size="11" text-anchor="end" >40</text>
<text transform="translate(145 242) scale(1 1.125)" fill="#FF0000" color="#FF0000" font-size="11" text-anchor="end" >45</text>
<text transform="translate(145 184) scale(1 1.125)" fill="#FF0000" color="#FF0000" font-size="11" text-anchor="end" >50</text>
<text transform="translate(145 125) scale(1 1.125)" fill="#FF0000" color="#FF0000" font-size="11" text-anchor="end" >55</text>
<text transform="translate(145 67) scale(1 1.125)" fill="#FF0000" color="#FF0000" font-size="11" text-anchor="end" >60</text>
<text transform="translate(917 767) scale(1 1.125)" fill="#808080" color="#808080" font-size="11" text-anchor="start" >0</text>
<text transform="translate(917 697) scale(1 1.125)" fill="#808080" color="#808080" font-size="11" text-anchor="start" >10</text>
<text transform="translate(917 627) scale(1 1.125)" fill="#808080" color="#808080" font-size="11" text-anchor="start" >20</text>
<text transform="translate(917 557) scale(1 1.125)" fill="#808080" color="#808080" font-size="11" text-anchor="start" >30</text>
<text transform="translate(917 487) scale(1 1.125)" fill="#808080" color="#808080" font-size="11" text-anchor="start" >40</text>
<text transform="translate(917 417) scale(1 1.125)" fill="#808080" color="#808080" font-size="11" text-anchor="start" >50</text>
<text transform="translate(917 347) scale(1 1.125)" fill="#808080" color="#808080" font-size="11" text-anchor="start" >60</text>
<text transform="translate(917 277) scale(1 1.125)" fill="#808080" color="#808080" font-size="11" text-anchor="start" >70</text>
<text transform="translate(917 207) scale(1 1.125)" fill="#808080" color="#808080" font-size="11" text-anchor="start" >80</text>
<text transform="translate(917 137) scale(1 1.125)" fill="#808080" color="#808080" font-size="11" text-anchor="start" >90</text>
<text transform="translate(917 67) scale(1 1.125)" fill="#808080" color="#808080" font-size="11" text-anchor="start" >100</text>
<text transform="translate(955 767) scale(1 1.125)" fill="#0000FF" color="#0000FF" font-size="11" text-anchor="start" >0.0</text>
<text transform="translate(955 739) scale(1 1.125)" fill="#0000FF" color="#0000FF" font-size="11" text-anchor="start" >0.2</text>
<text transform="translate(955 711) scale(1 1.125)" fill="#0000FF" color="#0000FF" font-size="11" text-anchor="start" >0.4</text>
<text transform="translate(955 683) scale(1 1.125)" fill="#0000FF" color="#0000FF" font-size="11" text-anchor="start" >0.6</text>
<text transform="translate(955 655) scale(1 1.125)" fill="#0000FF" color="#0000FF" font-size="11" text-anchor="start" >0.8</text>
<text transform="translate(955 627) scale(1 1.125)" fill="#0000FF" color="#0000FF" font-size="11" text-anchor="start" >1.0</text>
<text transform="translate(955 599) scale(1 1.125)" fill="#0000FF" color="#0000FF" font-size="11" text-anchor="start" >1.2</text>
<text transform="translate(955 571) scale(1 1.125)" fill="#0000FF" color="#0000FF" font-size="11" text-anchor="start" >1.4</text>
<text transform="translate(955 543) scale(1 1.125)" fill="#0000FF" color="#0000FF" font-size="11" text-anchor="start" >1.6</text>
<text transform="translate(955 515) scale(1 1.125)" fill="#0000FF" color="#0000FF" font-size="11" text-anchor="start" >1.8</text>
<text transform="translate(955 487) scale(1 1.125)" fill="#0000FF" color="#0000FF" font-size="11" text-anchor="start" >2.0</text>
<text transform="translate(955 459) scale(1 1.125)" fill="#0000FF" color="#0000FF" font-size="11" text-anchor="start" >2.2</text>
<text transform="translate(955 431) scale(1 1.125)" fill="#0000FF" color="#0000FF" font-size="11" text-anchor="start" >2.4</text>
<text transform="translate(955 403) scale(1 1.125)" fill="#0000FF" color="#0000FF" font-size="11" text-anchor="start" >2.6</text>
<text transform="translate(955 375) scale(1 1.125)" fill="#0000FF" color="#0000FF" font-size="11" text-anchor="start" >2.8</text>
<text transform="translate(955 347) scale(1 1.125)" fill="#0000FF" color="#0000FF" font-size="11" text-anchor="start" >3.0</text>
<text transform="translate(955 319) scale(1 1.125)" fill="#0000FF" color="#0000FF" font-size="11" text-anchor="start" >3.2</text>
<text transform="translate(955 291) scale(1 1.125)" fill="#0000FF" color="#0000FF" font-size="11" text-anchor="start" >3.4</text>
<text transform="translate(955 263) scale(1 1.125)" fill="#0000FF" color="#0000FF" font-size="11" text-anchor="start" >3.6</text>
<text transform="translate(955 235) scale(1 1.125)" fill="#0000FF" color="#0000FF" font-size="11" text-anchor="start" >3.8</text>
<text transform="translate(955 207) scale(1 1.125)" fill="#0000FF" color="#0000FF" font-size="11" text-anchor="start" >4.0</text>
<text transform="translate(955 179) scale(1 1.125)" fill="#0000FF" color="#0000FF" font-size="11" text-anchor="start" >4.2</text>
<text transform="translate(955 151) scale(1 1.125)" fill="#0000FF" color="#0000FF" font-size="11" text-anchor="start" >4.4</text>
<text transform="translate(955 123) scale(1 1.125)" fill="#0000FF" color="#0000FF" font-size="11" text-anchor="start" >4.6</text>
<text transform="translate(955 95) scale(1 1.125)" fill="#0000FF" color="#0000FF" font-size="11" text-anchor="start" >4.8</text>
<text transform="translate(991 767) scale(1 1.125)" fill="#008000" color="#008000" font-size="11" text-anchor="start" xml:space="preserve">0   N</text>
<text transform="translate(991 709) scale(1 1.125)" fill="#008000" color="#008000" font-size="11" text-anchor="start" xml:space="preserve">30</text>
<text transform="translate(991 650) scale(1 1.125)" fill="#008000" color="#008000" font-size="11" text-anchor="start" xml:space="preserve">60</text>
<text transform="translate(991 592) scale(1 1.125)" fill="#008000" color="#008000" font-size="11" text-anchor="start" xml:space="preserve">90  O</text>
<text transform="translate(991 534) scale(1 1.125)" fill="#008000" color="#008000" font-size="11" text-anchor="start" xml:space="preserve">120</text>
<text transform="translate(991 475) scale(1 1.125)" fill="#008000" color="#008000" font-size="11" text-anchor="start" xml:space="preserve">150</text>
<text transform="translate(991 417) scale(1 1.125)" fill="#008000" color="#008000" font-size="11" text-anchor="start" xml:space="preserve">180 S</text>
<text transform="translate(991 359) scale(1 1.125)" fill="#008000" color="#008000" font-size="11" text-anchor="start" xml:space="preserve">210</text>
<text transform="translate(991 300) scale(1 1.125)" fill="#008000" color="#008000" font-size="11" text-anchor="start" xml:space="preserve">240</text>
<text transform="translate(991 242) scale(1 1.125)" fill="#008000" color="#008000" font-size="11" text-anchor="start" xml:space="preserve">270 W</text>
<text transform="translate(991 184) scale(1 1.125)" fill="#008000" color="#008000" font-size="11" text-anchor="start" xml:space="preserve">300</text>
<text transform="translate(991 125) scale(1 1.125)" fill="#008000" color="#008000" font-size="11" text-anchor="start" xml:space="preserve">330</text>
<text transform="translate(991 67) scale(1 1.125)" fill="#008000" color="#008000" font-size="11" text-anchor="start" xml:space="preserve">360 N</text>
<text transform="translate(20 51) scale(1 1.125)" fill="#FF0000" color="#FF0000" font-size="11" text-anchor="start" >°C</text>
<text transform="translate(48 51) scale(1 1.125)" fill="#000" color="#000" font-size="11" text-anchor="start" >hPa</text>
<text transform="translate(79 51) scale(1 1.125)" fill="#008000" color="#008000" font-size="11" text-anchor="start" >km/h</text>
<text transform="translate(125 51) scale(1 1.125)" fill="#FF0000" color="#FF0000" font-size="11" text-anchor="start" >min</text>
<text transform="translate(912 51) scale(1 1.125)" fill="#808080" color="#808080" font-size="11" text-anchor="start" textLength="8" lengthAdjust="spacingAndGlyphs">%</text>
<text transform="translate(948.5 51) scale(1 1.125)" fill="#0000FF" color="#0000FF" font-size="11" text-anchor="start" textLength="17.5" lengthAdjust="spacingAndGlyphs">l/m²</text>
<text transform="translate(985.5 50) scale(1 1.125)" fill="#008000" color="#008000" font-size="9" text-anchor="start" >°</text>
<text transform="translate(151.5 781) scale(1 1.125)" fill="#000" color="#000" font-size="11" text-anchor="middle" >00:00</text>
<text transform="translate(214.5 781) scale(1 1.125)" fill="#000" color="#000" font-size="11" text-anchor="middle" >02:00</text>
<text transform="translate(278.5 781) scale(1 1.125)" fill="#000" color="#000" font-size="11" text-anchor="middle" >04:00</text>
<text transform="translate(341.5 781) scale(1 1.125)" fill="#000" color="#000" font-size="11" text-anchor="middle" >06:00</text>
<text transform="translate(404.5 781) scale(1 1.125)" fill="#000" color="#000" font-size="11" text-anchor="middle" >08:00</text>
<text transform="translate(468.5 781) scale(1 1.125)" fill="#000" color="#000" font-size="11" text-anchor="middle" >10:00</text>
<text transform="translate(531.5 781) scale(1 1.125)" fill="#000" color="#000" font-size="11" text-anchor="middle" >12:00</text>
<text transform="translate(594.5 781) scale(1 1.125)" fill="#000" color="#000" font-size="11" text-anchor="middle" >14:00</text>
<text transform="translate(658.5 781) scale(1 1.125)" fill="#000" color="#000" font-size="11" text-anchor="middle" >16:00</text>
<text transform="translate(721.5 781) scale(1 1.125)" fill="#000" color="#000" font-size="11" text-anchor="middle" >18:00</text>
<text transform="translate(784.5 781) scale(1 1.125)" fill="#000" color="#000" font-size="11" text-anchor="middle" >20:00</text>
<text transform="translate(848.5 781) scale(1 1.125)" fill="#000" color="#000" font-size="11" text-anchor="middle" >22:00</text>
<text transform="translate(911.5 781) scale(1 1.125)" fill="#000" color="#000" font-size="11" text-anchor="middle" >24:00</text>
<text x="514.5" y="21" fill="#000" color="#000" font-size="16" text-anchor="middle" >Friday, 21/09/2007</text>
<text transform="translate(907 16) scale(1 1.125)" fill="#FF0000" color="#FF0000" font-size="11" text-anchor="start" >www.DessauWetter.de</text>
<text transform="translate(10 792) scale(1 1.125)" fill="#000" color="#000" font-size="11" text-anchor="start" >12:18</text>
<text transform="translate(336.5 792) scale(1 1.125)" fill="#000" color="#000" font-size="11" text-anchor="start" >06:54</text>
<text transform="translate(704.3 792) scale(1 1.125)" fill="#000" color="#000" font-size="11" text-anchor="start" >17:</text>
<text transform="translate(725.5 792) scale(1 1.125)" fill="#000" color="#000" font-size="11" text-anchor="start" >19:12</text>
<g shape-rendering="crispEdges">
<rect x="161.5" y="33.5" width="9" height="9" fill="#FF0000" stroke="#000" stroke-width="1"/>
<rect x="161.5" y="47.5" width="9" height="9" fill="#FF8080" stroke="#000" stroke-width="1"/>
<rect x="256.5" y="33.5" width="9" height="9" fill="#808080" stroke="#000" stroke-width="1"/>
<rect x="256.5" y="47.5" width="9" height="9" fill="#00FF00" stroke="#000" stroke-width="1"/>
<rect x="351.5" y="33.5" width="9" height="9" fill="#000000" stroke="#000" stroke-width="1"/>
<rect x="446.5" y="33.5" width="9" height="9" fill="#0000FF" stroke="#000" stroke-width="1"/>
<rect x="541.5" y="33.5" width="9" height="9" fill="#008000" stroke="#000" stroke-width="1"/>
<rect x="636.5" y="33.5" width="9" height="9" fill="#008000" stroke="#000" stroke-width="1"/>
<rect x="731.5" y="33.5" width="9" height="9" fill="#FF0000" stroke="#000" stroke-width="1"/>
<rect x="826.5" y="33.5" width="9" height="9" fill="#804000" stroke="#000" stroke-width="1"/>
</g>
<text transform="translate(175 42) scale(1 1.125)" fill="#FF0000" color="#FF0000" font-size="11" text-anchor="start" >Temp. A.</text>
<text transform="translate(175 56) scale(1 1.125)" fill="#FF0000" color="#FF0000" font-size="11" text-anchor="start" >Windchill</text>
<text transform="translate(270 42) scale(1 1.125)" fill="#808080" color="#808080" font-size="11" text-anchor="start" >Feuchte A.*</text>
<text transform="translate(270 56) scale(1 1.125)" fill="#008000" color="#008000" font-size="11" text-anchor="start" >Windböen</text>
<text transform="translate(365 42) scale(1 1.125)" fill="#000" color="#000" font-size="11" text-anchor="start" >Luftdruck</text>
<text transform="translate(460 42) scale(1 1.125)" fill="#0000FF" color="#0000FF" font-size="11" text-anchor="start" >Regen</text>
<text transform="translate(555 42) scale(1 1.125)" fill="#008000" color="#008000" font-size="11" text-anchor="start" >Wind</text>
<text transform="translate(650 42) scale(1 1.125)" fill="#008000" color="#008000" font-size="11" text-anchor="start" >Richtung</text>
<text transform="translate(745 42) scale(1 1.125)" fill="#FF0000" color="#FF0000" font-size="11" text-anchor="start" >Regenzeit</text>
<text transform="translate(840 42) scale(1 1.125)" fill="#FF0000" color="#FF0000" font-size="11" text-anchor="start" >Taupunkt*</text>
<g shape-rendering="crispEdges" fill="#FFFF00"><rect x="43" y="785" width="3" height="1"/><rect x="41" y="786" width="7" height="2"/><rect x="40" y="788" width="9" height="3"/></g>
<g><g stroke="#FFFF9C" stroke-width="1.2" fill="none"><line x1="370" y1="782" x2="370" y2="794"/><line x1="366" y1="788" x2="376" y2="788"/><line x1="366.5" y1="784.5" x2="374.5" y2="792.5"/><line x1="366.5" y1="791.5" x2="374.5" y2="783.5"/><rect x="367" y="784.5" width="6.5" height="7"/></g><circle cx="370" cy="788" r="3.1" fill="#FFFF00"/></g>
<g shape-rendering="crispEdges"><rect x="693" y="782" width="11" height="11" fill="#000090"/></g>
<circle cx="696" cy="785" r="2.8" fill="#FFFFFF"/>
<path d="M699.8,784.8 L697.2,790.3 L698.6,790.3 L698.6,793 L700.8,793 L700.8,790.3 L701.2,790.3 z" fill="#000" opacity="0.8"/>
<path d="M700.5,784.6 L703.3,790.6 L701.8,790.6 L701.8,793 L699.2,793 L699.2,790.6 L697.8,790.6 z" fill="#FFFF00"/>
<g shape-rendering="crispEdges"><rect x="756.5" y="785.5" width="5" height="5" fill="none" stroke="#FFFF48"/></g>
</svg>
<div id="tbl"></div>
<div id="tw"><i style="left:87px"></i><i class="d" style="left:88px"></i><i style="left:204px"></i><i class="d" style="left:205px"></i><i style="left:322px"></i><i class="d" style="left:323px"></i><i style="left:440px"></i><i class="d" style="left:441px"></i><i style="left:558px"></i><i class="d" style="left:559px"></i><i style="left:676px"></i><i class="d" style="left:677px"></i><i style="left:794px"></i><i class="d" style="left:795px"></i><i style="left:912px"></i><i class="d" style="left:913px"></i><i style="left:0px"></i><i class="d" style="left:1023px"></i><b id="tt"></b><span class="b" style="left:8px;top:801px;">Sensor</span><span class="b" style="left:8px;top:817px;">MinWert</span><span class="b" style="left:8px;top:833px;">MaxWert</span><span class="b" style="left:8px;top:849px;">Durchschnitt</span><span class="b" style="left:95px;top:801px;">Temp. A.</span><span class="b" style="right:825px;top:801px;">°C</span><span class="r" style="left:101px;top:817px;">07:15</span><span class="r" style="right:826px;top:817px;">8.6</span><span class="r" style="left:101px;top:833px;">14:25</span><span class="r" style="right:826px;top:833px;">21.3</span><span class="r" style="right:826px;top:849px;">13.95</span><span class="b" style="left:212px;top:801px;">Feuchte A.</span><span class="b" style="right:707px;top:801px;">%</span><span class="r" style="left:218px;top:817px;">14:10</span><span class="r" style="right:708px;top:817px;">45</span><span class="r" style="left:218px;top:833px;">23:35</span><span class="r" style="right:708px;top:833px;">92</span><span class="r" style="right:708px;top:849px;">73</span><span class="b" style="left:330px;top:801px;">Luftdruck</span><span class="b" style="right:589px;top:801px;">hPa</span><span class="r" style="left:336px;top:817px;">22:50</span><span class="r" style="right:590px;top:817px;">1019.2</span><span class="r" style="left:336px;top:833px;">10:20</span><span class="r" style="right:590px;top:833px;">1022.7</span><span class="r" style="left:330px;top:849px;">^0.7hPa/h</span><span class="r" style="right:590px;top:849px;">1021.2</span><span class="b" style="left:448px;top:801px;">Wind</span><span class="b" style="right:471px;top:801px;">km/h</span><span class="r" style="left:448px;top:817px;">Ø 10 min.</span><span class="r" style="right:472px;top:817px;">2.3</span><span class="r" style="left:454px;top:833px;">12:05</span><span class="r" style="right:472px;top:833px;">SO 17.2</span><span class="r" style="left:454px;top:849px;">3.8 km</span><span class="r" style="right:472px;top:849px;">3.4</span><span class="b" style="left:566px;top:801px;">Windböen</span><span class="b" style="right:353px;top:801px;">km/h</span><span class="r" style="left:566px;top:817px;">Ø 10 min.</span><span class="r" style="right:354px;top:817px;">2.3</span><span class="r" style="left:572px;top:833px;">14:00</span><span class="r" style="right:354px;top:833px;">SW 22.5</span><span class="r" style="left:572px;top:849px;">3.8 km</span><span class="r" style="right:354px;top:849px;">3.8</span><span class="b" style="left:684px;top:801px;">Richtung</span><span class="r" style="left:690px;top:817px;">01:15</span><span class="r" style="right:236px;top:817px;">O-NO</span><span class="r" style="left:690px;top:833px;">14:05</span><span class="r" style="right:236px;top:833px;">W-NW</span><span class="r" style="right:236px;top:849px;">SO</span><span class="b" style="left:802px;top:801px;">Regen</span><span class="b" style="right:117px;top:801px;">l/m²</span><span class="r" style="left:802px;top:817px;">0 min.</span><span class="r" style="left:808px;top:833px;">00:00</span><span class="r" style="right:118px;top:833px;">0.0</span><span class="r" style="left:802px;top:849px;">Gesamt:</span><span class="r" style="right:118px;top:849px;">0.0</span><span class="r" style="left:920px;top:801px;">Virtual Temp</span><span class="r" style="right:1.5px;top:801px;">11.1°C</span><span class="r" style="left:920px;top:817px;">Regen/Tag</span><span class="r" style="right:1.5px;top:817px;">0.0l/m²</span><span class="r" style="left:920px;top:833px;">Neumond</span><span class="r" style="right:1.5px;top:833px;">11/10/07</span><span class="r" style="left:920px;top:849px;">Vollmond</span><span class="r" style="right:1.5px;top:849px;">26/09/07</span></div>
</body></html>
